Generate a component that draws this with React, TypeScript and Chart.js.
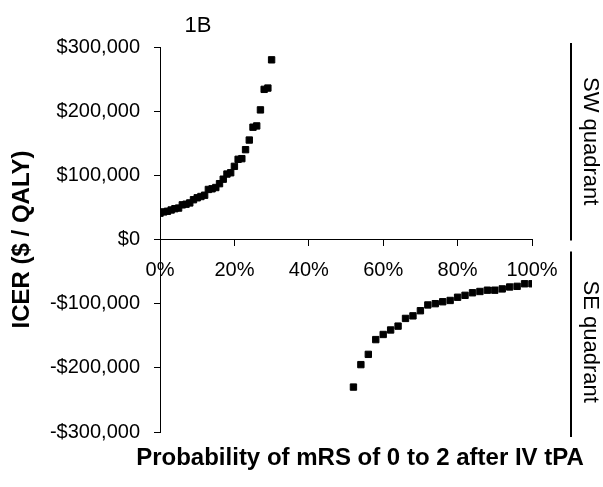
import React, { useEffect, useRef } from 'react';
import { Chart, registerables } from 'chart.js';

Chart.register(...registerables);

// Probability of mRS 0-2 after IV tPA (%), ICER ($/QALY) — SW quadrant
const swProbability = [0, 1, 2, 3, 4, 5, 6, 7, 8, 9, 10, 11, 12, 13, 14, 15, 16, 17, 18, 19, 20, 21, 22, 23, 24, 25, 26, 27, 28, 29, 30];
const swIcer = [41000, 43000, 44000, 46000, 48000, 49000, 54000, 55000, 57000, 62000, 65000, 67000, 69000, 78000, 79000, 81000, 87000, 94000, 102000, 104000, 114000, 125000, 126000, 140000, 155000, 175000, 177000, 202000, 234000, 236000, 280000];

// SE quadrant
const seProbability = [52, 54, 56, 58, 60, 62, 64, 66, 68, 70, 72, 74, 76, 78, 80, 82, 84, 86, 88, 90, 92, 94, 96, 98, 100];
const seIcer = [-230000, -195000, -179000, -156000, -148000, -141000, -135000, -123000, -119000, -111000, -102000, -100000, -97000, -95000, -90000, -87000, -83000, -81000, -79000, -79000, -77000, -74000, -73000, -69000, -69000];

const xTickValues = [0, 20, 40, 60, 80, 100];
const yTickValues = [-300000, -200000, -100000, 0, 100000, 200000, 300000];

const panelLabel = '1B';
const xTitle = 'Probability of mRS of 0 to 2 after IV tPA';
const yTitle = 'ICER ($ / QALY)';
const upperQuadrant = 'SW quadrant';
const lowerQuadrant = 'SE quadrant';

const FONT = '"Liberation Sans", Arial, sans-serif';

const fmtMoney = (v: number) => {
  if (v === 0) return '$0';
  const s = '$' + Math.abs(v).toLocaleString('en-US');
  return v < 0 ? '-' + s : s;
};

const annotate = {
  id: 'annotate',
  afterDraw(chart: any) {
    const { ctx, chartArea, scales } = chart;
    const y = scales.y;
    ctx.save();
    ctx.fillStyle = '#000';
    ctx.strokeStyle = '#000';

    // panel label
    ctx.font = `22px ${FONT}`;
    ctx.textAlign = 'center';
    ctx.textBaseline = 'alphabetic';
    ctx.fillText(panelLabel, chartArea.left + 38, chartArea.top - 15);

    // x-axis title
    ctx.font = `bold 24px ${FONT}`;
    ctx.textAlign = 'center';
    ctx.textBaseline = 'middle';
    ctx.fillText(xTitle, 360, 458);

    // quadrant brackets
    const lx = chartArea.right + 39;
    ctx.lineWidth = 2;
    ctx.beginPath();
    ctx.moveTo(lx, y.getPixelForValue(300000) - 4);
    ctx.lineTo(lx, y.getPixelForValue(0) + 1);
    ctx.moveTo(lx, y.getPixelForValue(0) + 12);
    ctx.lineTo(lx, y.getPixelForValue(-300000) + 5);
    ctx.stroke();

    ctx.font = `22px ${FONT}`;
    ctx.textAlign = 'center';
    ctx.textBaseline = 'middle';
    const tx = lx + 19;
    ctx.save();
    ctx.translate(tx, (y.getPixelForValue(300000) + y.getPixelForValue(0)) / 2 - 2);
    ctx.rotate(Math.PI / 2);
    ctx.fillText(upperQuadrant, 0, 0);
    ctx.restore();
    ctx.save();
    ctx.translate(tx, (y.getPixelForValue(0) + y.getPixelForValue(-300000)) / 2 + 6);
    ctx.rotate(Math.PI / 2);
    ctx.fillText(lowerQuadrant, 0, 0);
    ctx.restore();

    ctx.restore();
  },
};

export default function App() {
  const ref = useRef<HTMLCanvasElement | null>(null);

  useEffect(() => {
    if (!ref.current) return;
    const chart = new Chart(ref.current, {
      type: 'scatter',
      data: {
        datasets: [
          {
            label: upperQuadrant,
            data: swProbability.map((p, i) => ({ x: p, y: swIcer[i] })),
            backgroundColor: '#000',
            borderColor: '#000',
          },
          {
            label: lowerQuadrant,
            data: seProbability.map((p, i) => ({ x: p, y: seIcer[i] })),
            backgroundColor: '#000',
            borderColor: '#000',
          },
        ],
      },
      options: {
        animation: false,
        responsive: false,
        devicePixelRatio: 1,
        layout: { padding: { left: 0, top: 47, right: 71, bottom: 55 } },
        elements: {
          point: { pointStyle: 'rect', radius: 4.5, borderWidth: 1, hoverRadius: 4.5 },
        },
        plugins: {
          legend: { display: false },
          tooltip: { enabled: false },
          title: { display: false },
        },
        scales: {
          x: {
            type: 'linear',
            position: { y: 0 } as any,
            min: 0,
            max: 100,
            afterBuildTicks: (scale: any) => {
              scale.ticks = xTickValues.map((v) => ({ value: v }));
            },
            afterFit: (scale: any) => {
              scale.height = 0;
            },
            ticks: {
              callback: (v: any) => `${v}%`,
              font: { family: FONT, size: 20 },
              color: '#000',
              padding: 13,
              maxRotation: 0,
              autoSkip: false,
            },
            grid: { drawOnChartArea: false, drawTicks: true, tickLength: 6, color: '#000', lineWidth: 1 },
            border: { display: true, color: '#000', width: 1 },
          },
          y: {
            type: 'linear',
            position: 'left',
            min: -300000,
            max: 300000,
            afterBuildTicks: (scale: any) => {
              scale.ticks = yTickValues.map((v) => ({ value: v }));
            },
            afterFit: (scale: any) => {
              scale.width = 160;
            },
            ticks: {
              callback: (v: any) => fmtMoney(Number(v)),
              font: { family: FONT, size: 20 },
              color: '#000',
              padding: 14,
              autoSkip: false,
            },
            title: {
              display: true,
              text: yTitle,
              font: { family: FONT, size: 24, weight: 'bold' },
              color: '#000',
              padding: { top: 8, bottom: 0 },
            },
            grid: { drawOnChartArea: false, drawTicks: true, tickLength: 6, color: '#000', lineWidth: 1 },
            border: { display: true, color: '#000', width: 1 },
          },
        },
      },
      plugins: [annotate],
    });
    return () => chart.destroy();
  }, []);

  return (
    <canvas
      ref={ref}
      width={603}
      height={487}
      style={{ position: 'absolute', left: 0, top: 0, width: 603, height: 487, display: 'block' }}
    />
  );
}
